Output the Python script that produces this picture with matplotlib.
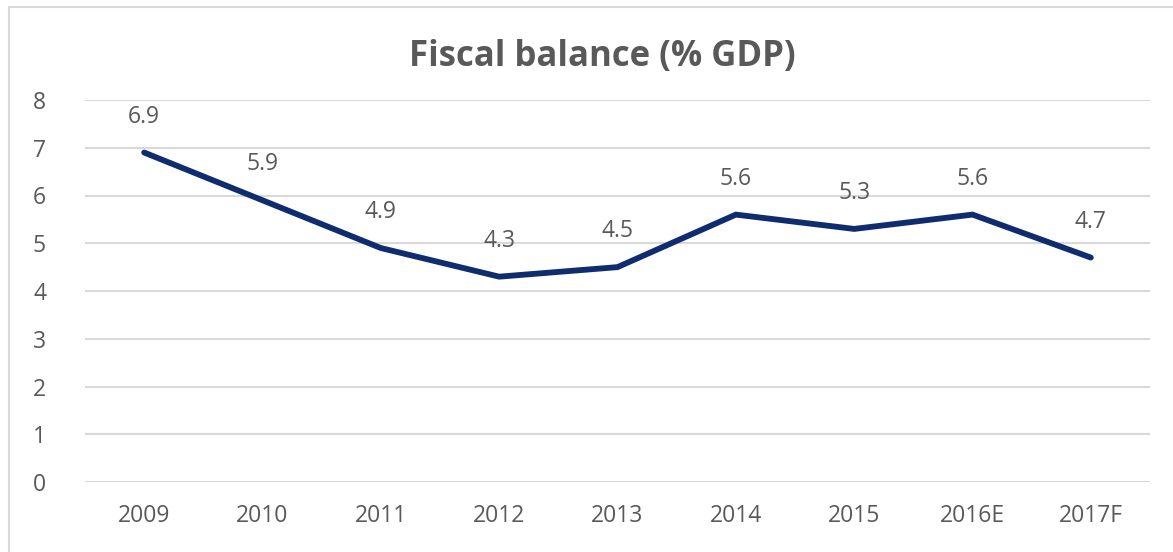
import matplotlib.pyplot as plt
from matplotlib.lines import Line2D

plt.rcParams['font.family'] = ['Open Sans', 'DejaVu Sans']

# data
years = ['2009', '2010', '2011', '2012', '2013', '2014', '2015', '2016E', '2017F']
balance = [6.9, 5.9, 4.9, 4.3, 4.5, 5.6, 5.3, 5.6, 4.7]

text_col = '#595959'
grid_col = '#d9d9d9'
line_col = '#0f2d6e'

W, H = 1173, 552
fig = plt.figure(figsize=(W / 100, H / 100), dpi=100)
ax = fig.add_axes([85 / W, 1 - 482 / H, (1150 - 85) / W, (482 - 100) / H])

x = range(len(years))
ax.plot(x, balance, color=line_col, linewidth=4.2, solid_capstyle='round',
        solid_joinstyle='miter', zorder=3)

for i, v in enumerate(balance):
    ax.annotate('{:.1f}'.format(v), (i, v), xytext=(0, 24), textcoords='offset pixels',
                ha='center', va='bottom', fontsize=16.5, color=text_col)

ax.set_xlim(-0.5, len(years) - 0.5)
ax.set_ylim(0, 8)
ax.set_yticks(range(0, 9))
ax.set_xticks(list(x))
ax.set_xticklabels(years)
ax.tick_params(axis='both', length=0, labelsize=16.5, labelcolor=text_col)
ax.tick_params(axis='x', pad=16)
ax.tick_params(axis='y', pad=28)

ax.grid(True, axis='y', color=grid_col, linewidth=1.5)
ax.set_axisbelow(True)
for s in ax.spines.values():
    s.set_visible(False)

fig.text(602 / W, 1 - 57 / H, 'Fiscal balance (% GDP)', ha='center', va='center',
         fontsize=25, fontweight='bold', color=text_col)

# outer chart frame (left and top edges visible)
fig.add_artist(Line2D([9 / W, 9 / W], [0, 1 - 7 / H], color=grid_col, linewidth=1.5))
fig.add_artist(Line2D([9 / W, 1], [1 - 7 / H, 1 - 7 / H], color=grid_col, linewidth=1.5))

fig.savefig('out.png', dpi=100)
